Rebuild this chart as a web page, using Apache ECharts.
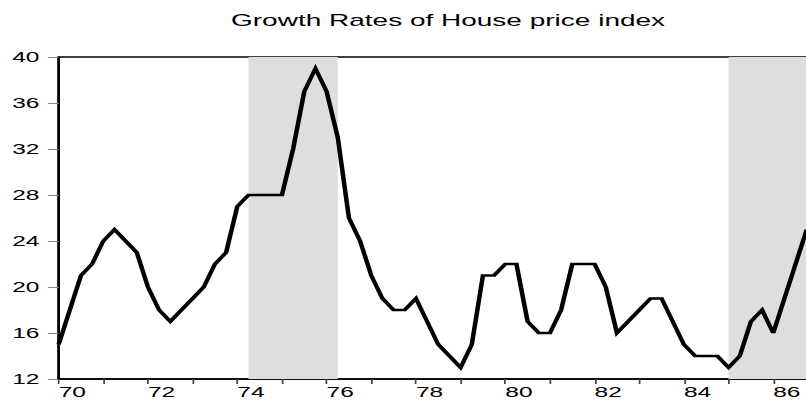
<!DOCTYPE html>
<html>
<head>
<meta charset="utf-8">
<script src="https://cdn.jsdelivr.net/npm/echarts@6/dist/echarts.min.js"></script>
<style>
html,body{margin:0;padding:0;background:#fff;overflow:hidden;width:806px;height:401px;}
#chart{width:461px;height:401px;transform:scaleX(1.75);transform-origin:0 0;}
</style>
</head>
<body>
<div id="chart"></div>
<script>
const titleText = 'Growth Rates of House price index';
const years = [1970,1971,1972,1973,1974,1975,1976,1977,1978,1979,1980,1981,1982,1983,1984,1985,1986];
const quarters = ['Q1','Q2','Q3','Q4'];
const values = [
  15, 18, 21, 22,
  24, 25, 24, 23,
  20, 18, 17, 18,
  19, 20, 22, 23,
  27, 28, 28, 28,
  28, 32, 37, 39,
  37, 33, 26, 24,
  21, 19, 18, 18,
  19, 17, 15, 14,
  13, 15, 21, 21,
  22, 22, 17, 16,
  16, 18, 22, 22,
  22, 20, 16, 17,
  18, 19, 19, 17,
  15, 14, 14, 14,
  13, 14, 17, 18,
  16, 19, 22, 25
];
const shadedPeriods = [['1974Q2','1976Q2'],['1985Q1','1986Q4']];
const yTicks = {min:12, max:40, interval:4};

const categories = [];
years.forEach(y => quarters.forEach(q => categories.push(y + q)));

const chart = echarts.init(document.getElementById('chart'), null, {renderer:'svg'});
const font = 'Liberation Sans, Arial, Helvetica, sans-serif';
chart.setOption({
  animation:false,
  backgroundColor:'#ffffff',
  title:{
    text:titleText,
    left:127, top:7,
    textStyle:{fontFamily:font, fontSize:16, fontWeight:'normal', color:'#000'}
  },
  grid:{
    left:33.5, right:0, top:57, bottom:22,
    show:true, borderColor:'#000', borderWidth:1.5, backgroundColor:'transparent'
  },
  xAxis:{
    type:'category',
    data:categories,
    boundaryGap:false,
    axisLine:{show:true, lineStyle:{color:'#000', width:1.5}},
    axisTick:{show:true, interval:3, length:5, lineStyle:{color:'#444', width:1}},
    axisLabel:{
      interval:3, align:'left', margin:6,
      fontFamily:font, fontSize:14, color:'#000',
      formatter:(v)=>{ const y = parseInt(v.slice(0,4)); return (y % 2 === 0) ? String(y).slice(2) : ''; }
    },
    splitLine:{show:false}
  },
  yAxis:{
    type:'value',
    min:yTicks.min, max:yTicks.max, interval:yTicks.interval,
    axisLine:{show:true, lineStyle:{color:'#000', width:1.2}},
    axisTick:{show:true, length:6, lineStyle:{color:'#888', width:1}},
    axisLabel:{fontFamily:font, fontSize:14, color:'#000', margin:11},
    splitLine:{show:false}
  },
  series:[{
    type:'line',
    data:values,
    symbol:'none',
    lineStyle:{color:'#000', width:2.6, join:'miter'},
    markArea:{
      silent:true,
      itemStyle:{color:'#dedede'},
      data:shadedPeriods.map(p => [{xAxis:p[0]},{xAxis:p[1]}])
    }
  }]
});
</script>
</body>
</html>
